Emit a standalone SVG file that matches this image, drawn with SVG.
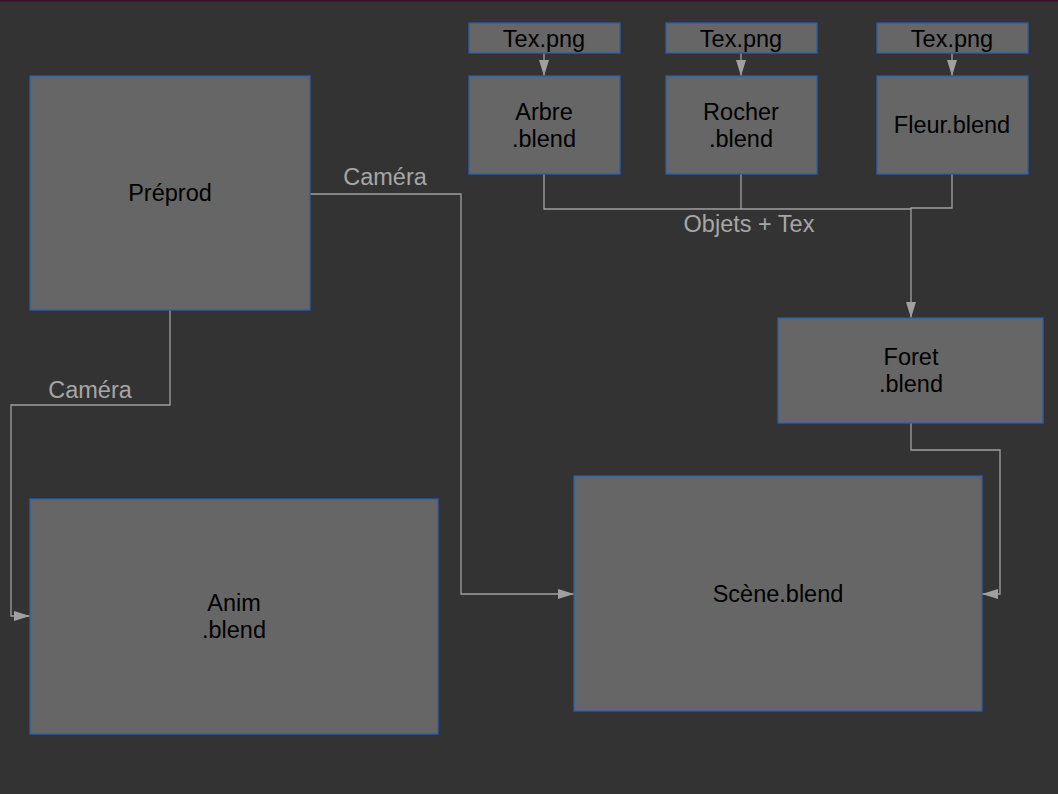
<svg xmlns="http://www.w3.org/2000/svg" width="1058" height="794" viewBox="0 0 1058 794">
<style>
.n{fill:#666666;stroke:#2a5fae;stroke-width:1.3}
.t{font-family:"Liberation Sans",Arial,sans-serif;font-size:23.5px;fill:#000;text-anchor:middle}
.e{fill:none;stroke:#a0a0a0;stroke-width:1.3}
.l{font-family:"Liberation Sans",Arial,sans-serif;font-size:23.5px;fill:#a6a6a6;text-anchor:middle}
</style>
<defs>
<marker id="ah" viewBox="0 0 16 10" refX="16" refY="5" markerWidth="16" markerHeight="10" markerUnits="userSpaceOnUse" orient="auto">
<path d="M0,0 L16,5 L0,10 Z" fill="#a0a0a0"/>
</marker>
</defs>
<rect x="0" y="0" width="1058" height="794" fill="#333333"/>
<rect x="0" y="0" width="1058" height="1.5" fill="#3e0f2c"/>
<g id="connectors">
<path class="e" d="M310,194 H461 V594 H574" marker-end="url(#ah)"/>
<path class="e" d="M170,310 V405 H11 V616 H30" marker-end="url(#ah)"/>
<path class="e" d="M544,53 V76" marker-end="url(#ah)"/>
<path class="e" d="M741,53 V76" marker-end="url(#ah)"/>
<path class="e" d="M952,53 V76" marker-end="url(#ah)"/>
<path class="e" d="M544,174 V209 H911"/>
<path class="e" d="M741,174 V209"/>
<path class="e" d="M952,174 V208 H911 V318" marker-end="url(#ah)"/>
<path class="e" d="M911,423 V450 H1000 V594 H982" marker-end="url(#ah)"/>
<text class="l" x="385" y="185">Caméra</text>
<text class="l" x="90" y="398">Caméra</text>
<text class="l" x="749" y="232">Objets + Tex</text>
</g>
<g id="preprod"><rect class="n" x="30" y="76" width="280" height="234"/><text class="t" x="170" y="201">Préprod</text></g>
<g id="anim"><rect class="n" x="30" y="499" width="408" height="235"/><text class="t" x="234" y="611">Anim</text><text class="t" x="234" y="638">.blend</text></g>
<g id="scene"><rect class="n" x="574" y="476" width="408" height="235"/><text class="t" x="778" y="602">Scène.blend</text></g>
<g id="foret"><rect class="n" x="778" y="318" width="265" height="105"/><text class="t" x="911" y="365">Foret</text><text class="t" x="911" y="392">.blend</text></g>
<g id="tex1"><rect class="n" x="469" y="23" width="151" height="30"/><text class="t" x="544" y="47">Tex.png</text></g>
<g id="arbre"><rect class="n" x="469" y="76" width="151" height="98"/><text class="t" x="544" y="120">Arbre</text><text class="t" x="544" y="147">.blend</text></g>
<g id="tex2"><rect class="n" x="666" y="23" width="151" height="30"/><text class="t" x="741" y="47">Tex.png</text></g>
<g id="rocher"><rect class="n" x="666" y="76" width="151" height="98"/><text class="t" x="741" y="120">Rocher</text><text class="t" x="741" y="147">.blend</text></g>
<g id="tex3"><rect class="n" x="877" y="23" width="151" height="30"/><text class="t" x="952" y="47">Tex.png</text></g>
<g id="fleur"><rect class="n" x="877" y="76" width="151" height="98"/><text class="t" x="952" y="133">Fleur.blend</text></g>
</svg>
